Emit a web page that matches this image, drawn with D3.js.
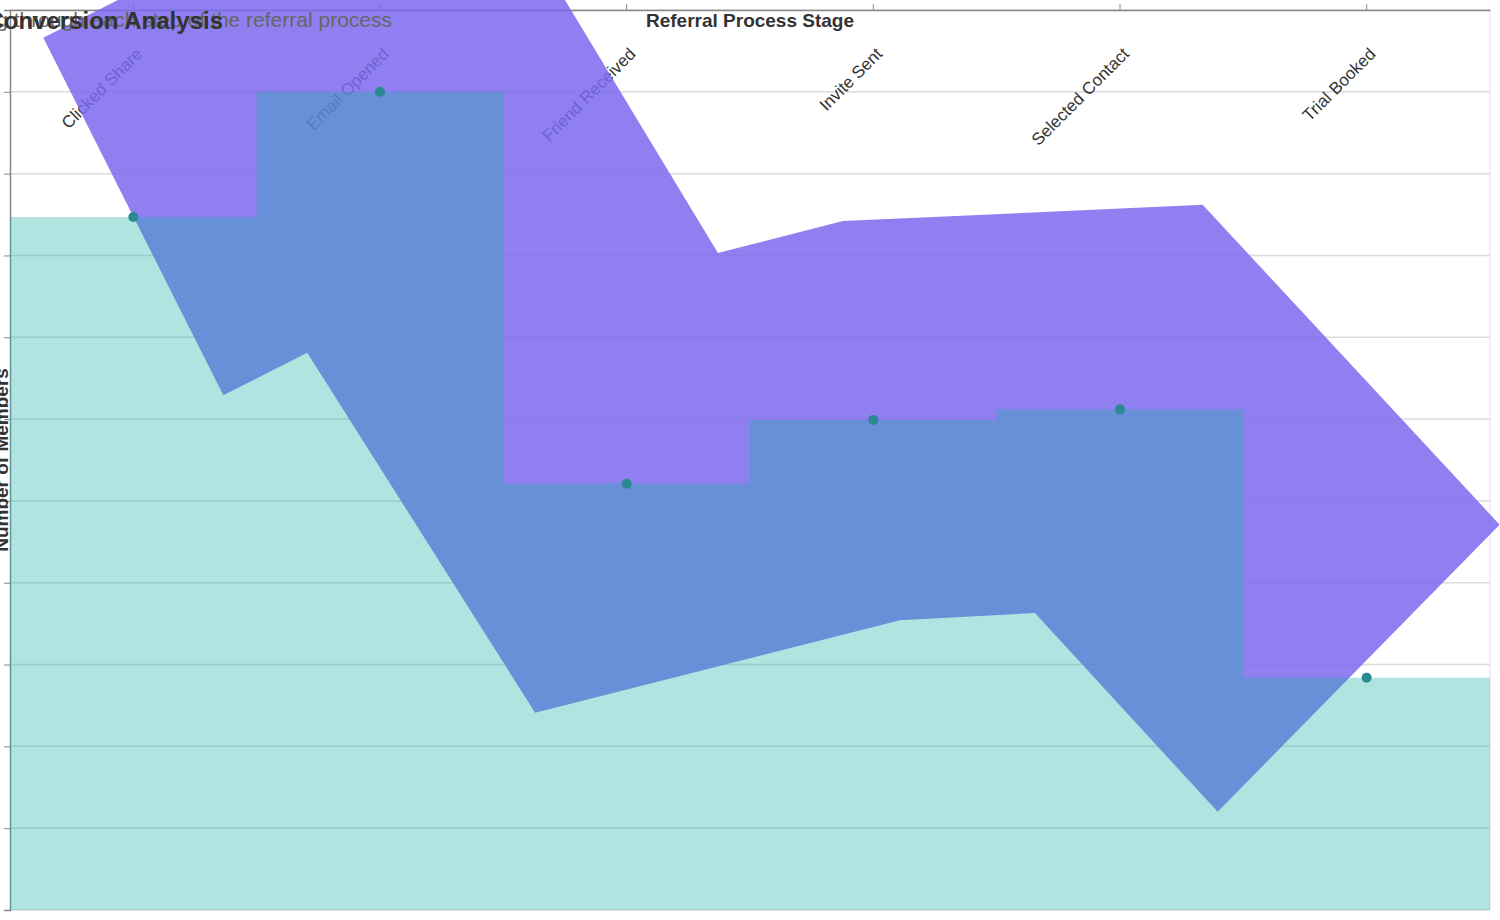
<!DOCTYPE html>
<html><head><meta charset="utf-8">
<script src="https://cdn.jsdelivr.net/npm/d3@7"></script>
<style>body{margin:0;background:#fff}svg{display:block;font-family:"Liberation Sans",Arial,sans-serif}</style>
</head><body><svg id="c" width="1500" height="920"></svg>
<script>
// stages and member counts
var stages = ["Clicked Share", "Email Opened", "Friend Received", "Invite Sent", "Selected Contact", "Trial Booked"];
var members = [847, 1000, 521, 599, 612, 284];
// range band (position in stage units, value)
var bandLower = [[-0.365, 1066], [0.365, 629], [0.705, 681], [1.629, 241], [3.108, 354], [3.655, 363], [4.396, 120], [5.539, 471]];
var bandUpper = [[-0.365, 1066], [1.325, 1324], [2.370, 803], [2.877, 842], [4.335, 862], [5.539, 471]];
var yTicks = d3.range(0, 1101, 100);

var svg = d3.select("#c");
var mLeft = 10, mRight = 1490, mTop = 10, mBottom = 910;

var x = d3.scaleBand().domain(stages).range([mLeft, mRight]);
var pos = d3.scaleLinear().domain([0, stages.length - 1])
  .range([x(stages[0]) + x.bandwidth() / 2, x(stages[stages.length - 1]) + x.bandwidth() / 2]);
var y = d3.scaleLinear().domain([0, 1100]).range([mBottom, mTop]);

// grid
svg.append("g").selectAll("line").data(yTicks).enter().append("line")
  .attr("x1", mLeft).attr("x2", mRight).attr("y1", y).attr("y2", y)
  .attr("stroke", "#dcdcdc").attr("stroke-width", 1.5);
svg.append("line").attr("x1", mRight).attr("x2", mRight).attr("y1", mTop).attr("y2", mBottom).attr("stroke", "#e4e4e4");

// axes
var xa = svg.append("g").attr("transform", "translate(0," + mTop + ")")
  .call(d3.axisTop(x).tickSize(6).tickSizeOuter(0));
xa.select(".domain").attr("stroke", "#888").attr("stroke-width", 1.5);
xa.selectAll(".tick line").attr("stroke", "#888");
xa.selectAll(".tick text").attr("font-size", 17).attr("fill", "#333")
  .attr("text-anchor", "end").attr("transform", "translate(10,45) rotate(-45)").attr("y", 0).attr("dy", 0);

var ya = svg.append("g").attr("transform", "translate(" + mLeft + ",0)")
  .call(d3.axisLeft(y).tickValues(yTicks).tickSize(6).tickFormat(""));
ya.select(".domain").attr("stroke", "#888").attr("stroke-width", 1.5);
ya.selectAll(".tick line").attr("stroke", "#888");

// band
var line = d3.line().x(function(p) { return pos(p[0]); }).y(function(p) { return y(p[1]); });
svg.append("path").datum(bandUpper.concat(bandLower.slice().reverse()))
  .attr("d", function(d) { return line(d) + "Z"; })
  .attr("fill", "#7B68EE").attr("fill-opacity", 0.85);

// step area
var stepPts = [[mLeft, members[0]]].concat(members.map(function(v, i) { return [pos(i), v]; }), [[mRight, members[members.length - 1]]]);
svg.append("path").datum(stepPts)
  .attr("d", d3.area().curve(d3.curveStep).x(function(d) { return d[0]; }).y0(mBottom).y1(function(d) { return y(d[1]); }))
  .attr("fill", "#20B2AA").attr("fill-opacity", 0.35);

svg.append("g").selectAll("circle").data(members).enter().append("circle")
  .attr("cx", function(d, i) { return pos(i); }).attr("cy", y).attr("r", 5).attr("fill", "#2a8a92");

// titles
svg.append("text").attr("x", 392).attr("y", 27).attr("text-anchor", "end")
  .attr("font-size", 21).attr("fill", "#666").text("Members moving through each step of the referral process");
svg.append("text").attr("x", 223).attr("y", 29).attr("text-anchor", "end")
  .attr("font-size", 24).attr("font-weight", "bold").attr("fill", "#333").text("Conversion Analysis");
svg.append("text").attr("x", 750).attr("y", 27).attr("text-anchor", "middle")
  .attr("font-size", 19).attr("font-weight", "bold").attr("fill", "#333").text("Referral Process Stage");
svg.append("text").attr("transform", "translate(8,460) rotate(-90)").attr("text-anchor", "middle")
  .attr("font-size", 19).attr("font-weight", "bold").attr("fill", "#333").text("Number of Members");
</script></body></html>
